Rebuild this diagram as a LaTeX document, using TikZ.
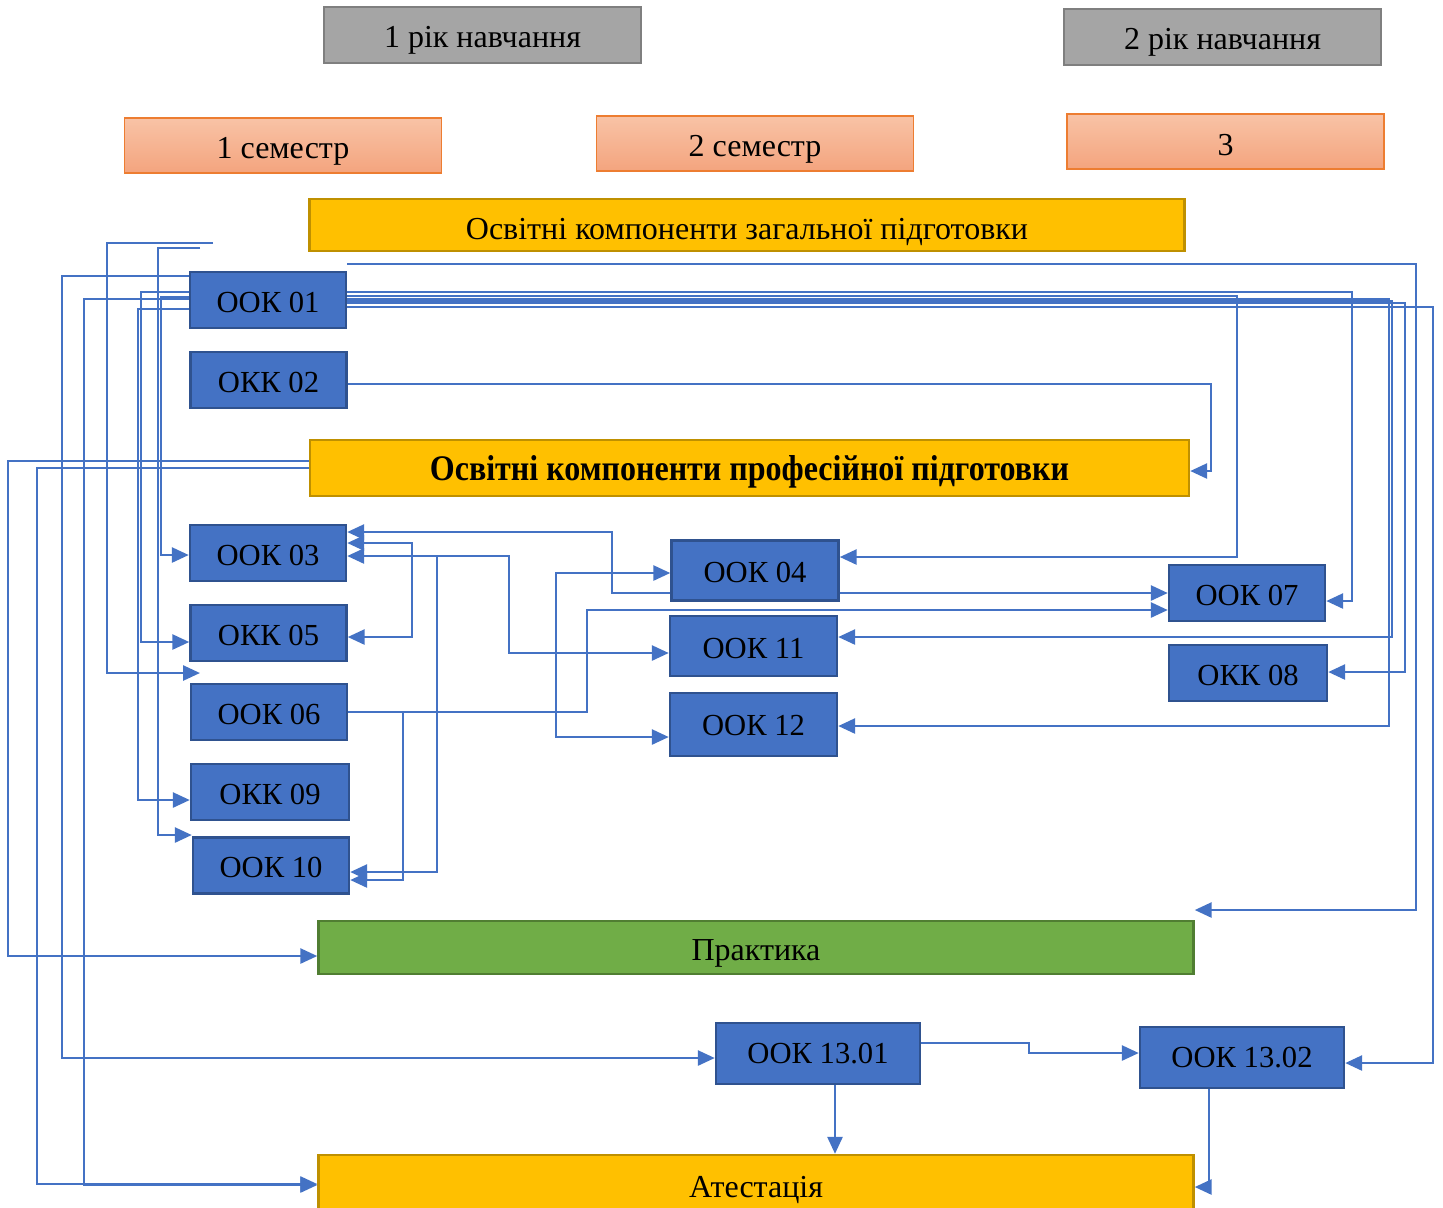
\documentclass[tikz,border=0pt]{standalone}
\usepackage{fontspec}
\setmainfont{Liberation Serif}
\usetikzlibrary{arrows.meta,calc}
\definecolor{lblue}{HTML}{4472C4}
\definecolor{dblue}{HTML}{2F528F}
\definecolor{ygold}{HTML}{FFC000}
\definecolor{ygoldd}{HTML}{BF9000}
\definecolor{gfill}{HTML}{A5A5A5}
\definecolor{gdraw}{HTML}{7F7F7F}
\definecolor{salt}{HTML}{F8C3A6}
\definecolor{salb}{HTML}{F4A47E}
\definecolor{sald}{HTML}{ED7D31}
\definecolor{grn}{HTML}{70AD47}
\definecolor{grnd}{HTML}{507E32}
\newcommand{\dn}[2]{\raisebox{-#1pt}[\height][\depth]{#2}}
\tikzset{
  boxbase/.style={rectangle, inner sep=0pt, text=black, line width=1.2pt},
  ook/.style={boxbase, fill=lblue, draw=dblue, minimum width=78pt, minimum height=28pt, font=\fontsize{15.3}{18}\selectfont},
  ookw/.style={ook, minimum width=83.5pt, minimum height=30pt},
  ookb/.style={ook, minimum width=102pt, minimum height=30.5pt},
  yearbox/.style={boxbase, fill=gfill, draw=gdraw, minimum width=158.5pt, minimum height=28pt, font=\fontsize{16}{19}\selectfont},
  sembox/.style={boxbase, top color=salt, bottom color=salb, draw=sald, line width=0.7pt, minimum width=158.5pt, minimum height=27.5pt, font=\fontsize{16}{19}\selectfont},
  ybar/.style={boxbase, fill=ygold, draw=ygoldd, minimum width=437.5pt, minimum height=26pt, font=\fontsize{16}{19}\selectfont},
  gbar/.style={boxbase, fill=grn, draw=grnd, minimum width=437.5pt, minimum height=26.5pt, font=\fontsize{16}{19}\selectfont},
  conn/.style={draw=lblue, line width=1.35pt},
  arr/.style={-{Triangle[length=8.5pt,width=7.5pt]}},
  arrboth/.style={{Triangle[length=8.5pt,width=7.5pt]}-{Triangle[length=8.5pt,width=7.5pt]}},
}
\begin{document}
\begin{tikzpicture}[x=0.5pt,y=-0.5pt]
\clip (0,0) rectangle (1443,1207);
\fill[white] (0,0) rectangle (1443,1207);

% headers
\node[yearbox] (yr1) at (482.5,35) {\dn{2.5}{1 рік навчання}};
\node[yearbox] (yr2) at (1222.5,37) {\dn{2.5}{2 рік навчання}};
\node[sembox] (s1) at (283,145.5) {\dn{3}{1 семестр}};
\node[sembox] (s2) at (755,143.5) {\dn{3}{2 семестр}};
\node[sembox] (s3) at (1225.5,141.5) {\dn{2}{3}};

\node[ybar] (gen) at (747,225) {\dn{3.5}{Освітні компоненти загальної підготовки}};
\node[ybar, minimum width=439.5pt, minimum height=28pt, font=\fontsize{18}{21}\selectfont\bfseries] (prof) at (749.5,468) {\dn{2}{\scalebox{0.89}[1]{Освітні компоненти професійної підготовки}}};

% left column
\node[ook] (o01) at (268,300) {\dn{1.2}{ООК 01}};
\node[ook] (o02) at (268.5,380) {\dn{1.2}{ОКК 02}};
\node[ook] (o03) at (268,553) {\dn{1.2}{ООК 03}};
\node[ook] (o05) at (268.5,633) {\dn{1.2}{ОКК 05}};
\node[ook] (o06) at (269,712) {\dn{1.2}{ООК 06}};
\node[ook, minimum width=79pt] (o09) at (270,792) {\dn{1.2}{ОКК 09}};
\node[ook] (o10) at (271,865.5) {\dn{1.2}{ООК 10}};

% middle column
\node[ookw] (o04) at (755,570.5) {\dn{1}{ООК 04}};
\node[ookw] (o11) at (753.5,646) {\dn{1}{ООК 11}};
\node[ookw, minimum height=31.5pt] (o12) at (753.5,724.5) {\dn{0.5}{ООК 12}};

% right column
\node[ook] (o07) at (1247,593) {\dn{1.2}{ООК 07}};
\node[ook, minimum width=79pt] (o08) at (1248,673) {\dn{1.2}{ОКК 08}};

% bottom
\node[gbar] (prac) at (756,947.5) {};
\node[font=\fontsize{16}{19}\selectfont] (pract) at (756,953) {Практика};
\node[ookb] (o1301) at (818,1053.5) {ООК 13.01};
\node[ookb] (o1302) at (1242,1057.5) {ООК 13.02};
\node[ybar, minimum height=32.5pt] (att) at (756,1187.5) {\dn{1}{Атестація}};

% free ends
\coordinate (t1) at (213,243);
\coordinate (t2) at (200,248);
\coordinate (t3) at (347,264);
\coordinate (gap1) at (200,673);
\coordinate (j1) at (437,556);
\coordinate (j2) at (403,712);

% dangling top lines
\draw[conn,arr] (t1) -- (107,243) -- (107,673) -- (gap1);
\draw[conn,arr] (t2) -- (158,248) -- (158,835) -- (o10.west |- 0,835);

% from OOK 01 west
\draw[conn,arr] (o01.west |- 0,276) -- (62,276) -- (62,1058) -- (o1301.west |- 0,1058);
\draw[conn,arr] (o01.west |- 0,292) -- (141,292) -- (141,642) -- (o05.west |- 0,642);
\draw[conn,arr] (o01.west |- 0,297) -- (161,297) -- (161,555) -- (o03.west |- 0,555);
\draw[conn,arr] (o01.west |- 0,299) -- (84,299) -- (84,1185) -- (att.west |- 0,1185);
\draw[conn,arr] (o01.west |- 0,309) -- (138,309) -- (138,800) -- (o09.west |- 0,800);

% from OOK 01 east
\draw[conn,arr] (t3) -- (1416,264) -- (1416,910) -- (prac.east |- 0,910);
\draw[conn,arr] (o01.east |- 0,292) -- (1352,292) -- (1352,601) -- (o07.east |- 0,601);
\draw[conn,arr] (o01.east |- 0,296) -- (1237,296) -- (1237,557) -- (o04.east |- 0,557);
\draw[conn,arr] (o01.east |- 0,299) -- (1389,299) -- (1389,726) -- (o12.east |- 0,726);
\draw[conn,arr] (o01.east |- 0,301) -- (1392,301) -- (1392,637) -- (o11.east |- 0,637);
\draw[conn,arr] (o01.east |- 0,303) -- (1405,303) -- (1405,672) -- (o08.east |- 0,672);
\draw[conn,arr] (o01.east |- 0,307) -- (1433,307) -- (1433,1063) -- (o1302.east |- 0,1063);

% OKK 02
\draw[conn,arr] (o02.east |- 0,384) -- (1211,384) -- (1211,471) -- (prof.east |- 0,471);

% from professional bar
\draw[conn,arr] (prof.west |- 0,461) -- (8,461) -- (8,956) -- (prac.west |- 0,956);
\draw[conn,arr] (prof.west |- 0,468) -- (37,468) -- (37,1184) -- (att.west |- 0,1184);

% middle links
\draw[conn,arr] (o04.west |- 0,593) -- (612,593) -- (612,532) -- (o03.east |- 0,532);
\draw[conn,arrboth] (o03.east |- 0,543) -- (412,543) -- (412,637) -- (o05.east |- 0,637);
\draw[conn,arrboth] (o03.east |- 0,556) -- (509,556) -- (509,653) -- (o11.west |- 0,653);
\draw[conn,arr] (j1) -- (437,872) -- (o10.east |- 0,872);
\draw[conn,arr] (o06.east |- 0,712) -- (587,712) -- (587,610) -- (o07.west |- 0,610);
\draw[conn,arr] (j2) -- (403,880) -- (o10.east |- 0,880);
\draw[conn,arrboth] (o04.west |- 0,573) -- (556,573) -- (556,737) -- (o12.west |- 0,737);
\draw[conn,arr] (o04.east |- 0,593) -- (o07.west |- 0,593);

% bottom links
\draw[conn,arr] (o1301.east |- 0,1043) -- (1029,1043) -- (1029,1053) -- (o1302.west |- 0,1053);
\draw[conn,arr] (835,0 |- o1301.south) -- (835,0 |- att.north);
\draw[conn,arr] (1209,0 |- o1302.south) -- (1209,1187) -- (att.east |- 0,1187);
\end{tikzpicture}
\end{document}
